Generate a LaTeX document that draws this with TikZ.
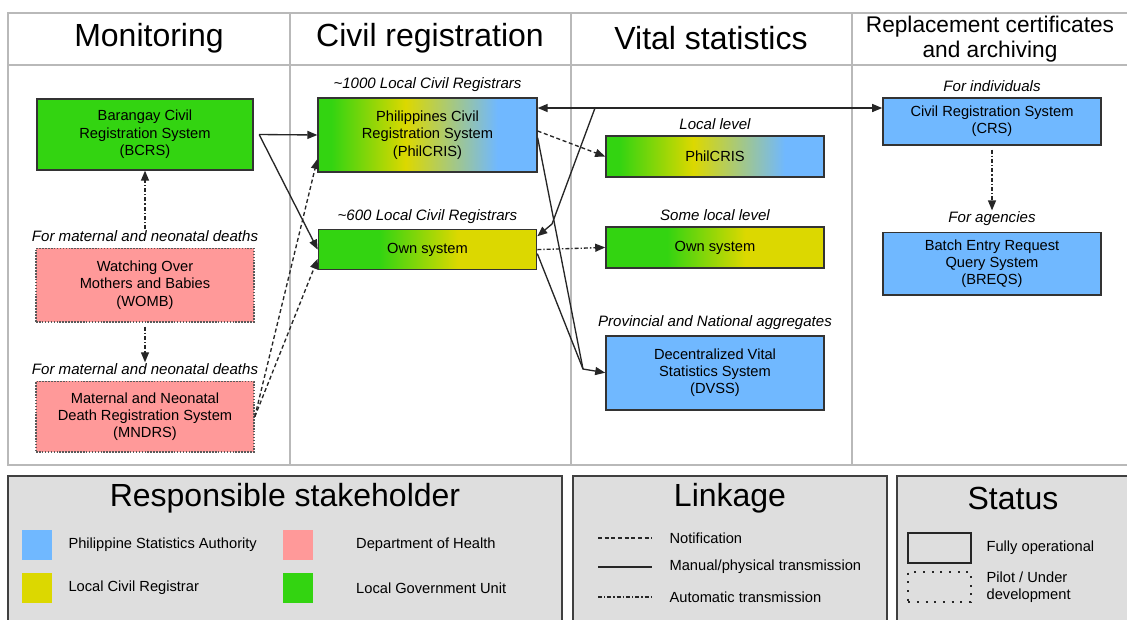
\documentclass[tikz,border=0pt]{standalone}
\usepackage{fontspec}
\setmainfont{Liberation Sans}
\usetikzlibrary{positioning, arrows.meta}

\definecolor{psa}{HTML}{70B8FF}
\definecolor{doh}{HTML}{FF9999}
\definecolor{lcr}{HTML}{DCD800}
\definecolor{lgu}{HTML}{33D411}
\definecolor{panelgray}{HTML}{DEDEDE}

\pgfdeclarehorizontalshading{philcris}{100bp}{color(0bp)=(lgu); color(28bp)=(lgu); color(45bp)=(lcr); color(66bp)=(psa); color(100bp)=(psa)}
\pgfdeclarehorizontalshading{ownsys}{100bp}{color(0bp)=(lgu); color(39bp)=(lgu); color(57bp)=(lcr); color(100bp)=(lcr)}

\tikzset{
  sys/.style={draw=black!80, line width=1.2pt, align=center, minimum width=163.5pt,
    inner sep=2pt, font=\fontsize{11}{13}\selectfont},
  pilot/.style={sys, draw=black!65, densely dotted, fill=doh},
  tag/.style={font=\fontsize{11.3}{13}\selectfont\itshape, inner sep=1pt},
  head/.style={font=\fontsize{24}{28}\selectfont},
  man/.style={line width=1pt, black!85},
  notif/.style={man, dash pattern=on 3pt off 2pt},
  autotx/.style={man, dash pattern=on 3pt off 1.5pt on 1pt off 1.5pt},
  legbox/.style={draw=black!75, line width=1pt, fill=panelgray},
  swatch/.style={minimum size=22.5pt, inner sep=0pt},
  legtxt/.style={font=\fontsize{11}{13}\selectfont, inner sep=1pt, anchor=west, align=left}
}

\begin{document}
\begin{tikzpicture}[x=0.75pt, y=-0.75pt, node distance=40pt, >={Triangle[length=7.5pt,width=6pt]}]
    \useasboundingbox (0,0) rectangle (1127,619);

    % table
    \draw[gray!55, line width=0.8pt] (8,13) rectangle (1140,465);
    \draw[gray!55, line width=0.8pt] (8,65) -- (1140,65);
    \foreach \x in {290,571,852}
        \draw[gray!55, line width=0.8pt] (\x,13) -- (\x,465);

    \node[head] (h-mon) at (149,38) {Monitoring};
    \node[head] (h-civ) at (430,38) {Civil registration};
    \node[head] (h-vit) at (711,38) {Vital statistics};
    \node[head, font=\fontsize{17}{19}\selectfont, align=center] (h-rep) at (990,39) {Replacement certificates\\and archiving};

    % monitoring
    \node[sys, fill=lgu, minimum height=53pt, minimum width=162pt] (bcrs) at (145,134.5) {Barangay Civil\\Registration System\\(BCRS)};
    \node[pilot, minimum height=55pt, below=57.75pt of bcrs] (womb) {Watching Over\\Mothers and Babies\\(WOMB)};
    \node[pilot, minimum height=53pt, below=43.5pt of womb] (mndrs) {Maternal and Neonatal\\Death Registration System\\(MNDRS)};

    % civil registration
    \node[sys, shade, shading=philcris, minimum height=55.5pt, minimum width=164pt] (phil) at (427.5,135) {Philippines Civil\\Registration System\\(PhilCRIS)};
    \node[sys, shade, shading=ownsys, minimum height=30pt, below=42pt of phil] (own) {Own system};

    % vital statistics
    \node[sys, shade, shading=philcris, minimum height=31pt] (vphil) at (715,156.5) {PhilCRIS};
    \node[sys, shade, shading=ownsys, minimum height=31pt, below=36pt of vphil] (vown) {Own system};
    \node[sys, fill=psa, minimum height=55.5pt, below=49.5pt of vown] (dvss) {Decentralized Vital\\Statistics System\\(DVSS)};

    % replacement certificates
    \node[sys, fill=psa, minimum height=35pt] (crs) at (992,121.5) {Civil Registration System\\(CRS)};
    \node[sys, fill=psa, minimum height=47pt, below=64.5pt of crs] (breqs) {Batch Entry Request\\Query System\\(BREQS)};

    % labels
    \node[tag, above=3pt of womb] (t-womb) {For maternal and neonatal deaths};
    \node[tag, above=3pt of mndrs] (t-mndrs) {For maternal and neonatal deaths};
    \node[tag, above=3pt of phil] (t-phil) {{\textasciitilde}1000 Local Civil Registrars};
    \node[tag, above=3pt of own] (t-own) {{\textasciitilde}600 Local Civil Registrars};
    \node[tag, above=3pt of vphil] (t-vphil) {Local level};
    \node[tag, above=3pt of vown] (t-vown) {Some local level};
    \node[tag, above=3pt of dvss] (t-dvss) {Provincial and National aggregates};
    \node[tag, above=3pt of crs] (t-crs) {For individuals};
    \node[tag, above=3pt of breqs] (t-breqs) {For agencies};

    % links
    \coordinate (link) at (595,108);
    \coordinate (bend) at (552,224);
    \coordinate (merge) at (583,369);

    \draw[man,->] ([xshift=4pt]bcrs.east) -- (phil.west);
    \draw[man,->] ([xshift=4pt]bcrs.east) -- (own.west);
    \draw[notif,->] (mndrs.east) -- ([yshift=-18pt]phil.west);
    \draw[notif,->] (mndrs.east) -- ([yshift=-7pt]own.west);
    \draw[autotx,->] (t-womb.north) -- (bcrs.south);
    \draw[autotx,->] ([yshift=-3pt]womb.south) -- (t-mndrs.north);
    \draw[autotx,->] ([yshift=-3pt]crs.south) -- (t-breqs.north);

    \draw[man,<->] (phil.east |- link) -- (crs.west |- link);
    \draw[man,->] (link) -- (bend) -- ([yshift=10pt]own.east);
    \draw[notif,->] ([yshift=3pt]phil.east) -- (vphil.west);
    \draw[man] ([yshift=-2pt]phil.east) -- (merge);
    \draw[man,->] ([yshift=-3pt]own.east) -- (merge) -- (dvss.west);
    \draw[autotx,->] (own.east) -- (vown.west);

    % legend panels
    \draw[legbox] (8,476) rectangle (562,630);
    \draw[legbox] (573,476) rectangle (887,630);
    \draw[legbox] (897,476) rectangle (1140,630);

    \node[head] (l-resp) at (285,498) {Responsible stakeholder};
    \node[head] (l-link) at (730,498) {Linkage};
    \node[head] (l-stat) at (1013,498) {Status};

    \node[swatch, fill=psa] (s-psa) at (37,545) {};
    \node[swatch, fill=doh] (s-doh) at (298,545) {};
    \node[swatch, fill=lcr] (s-lcr) at (37,588) {};
    \node[swatch, fill=lgu] (s-lgu) at (298,588) {};
    \node[legtxt, right=11pt of s-psa] {Philippine Statistics Authority};
    \node[legtxt, right=31pt of s-doh] {Department of Health};
    \node[legtxt, right=11pt of s-lcr] {Local Civil Registrar};
    \node[legtxt, right=31pt of s-lgu] {Local Government Unit};

    \draw[notif] (598,538) -- (652,538);
    \draw[man] (598,567) -- (652,567);
    \draw[autotx] (598,597) -- (652,597);
    \node[legtxt] (k-not) at (668,538) {Notification};
    \node[legtxt] (k-man) at (668,567) {Manual/physical transmission};
    \node[legtxt] (k-aut) at (668,597) {Automatic transmission};

    \node[draw=black!85, line width=1.3pt, minimum width=47pt, minimum height=22.5pt] (st-full) at (939.5,548) {};
    \node[draw=black!85, line width=1.3pt, dash pattern=on 1.5pt off 5pt, minimum width=47pt, minimum height=22.5pt] (st-pilot) at (939.5,587) {};
    \node[legtxt] (k-full) at (985,548) {Fully operational};
    \node[legtxt] (k-pilot) at (985,587) {Pilot / Under\\development};
\end{tikzpicture}
\end{document}
